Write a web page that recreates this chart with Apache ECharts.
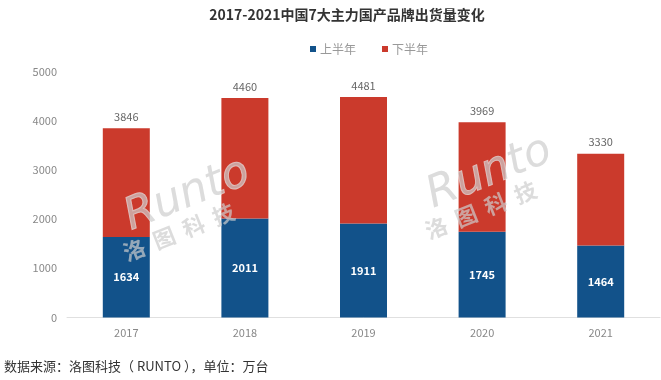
<!DOCTYPE html>
<html><head><meta charset="utf-8">
<script src="https://cdn.jsdelivr.net/npm/echarts@6/dist/echarts.min.js"></script>
<style>html,body{margin:0;padding:0;background:#fff}#c{width:661px;height:380px}</style>
</head><body><div id="c"></div>
<script>
const titleText = '2017-2021中国7大主力国产品牌出货量变化';
const sourceText = '数据来源：洛图科技（ RUNTO ），单位：万台';
const categories = ['2017', '2018', '2019', '2020', '2021'];
const seriesNames = ['上半年', '下半年'];
const firstHalf = [1634, 2011, 1911, 1745, 1464];
const secondHalf = [2212, 2449, 2570, 2224, 1866];
const totals = [3846, 4460, 4481, 3969, 3330];

const chart = echarts.init(document.getElementById('c'));
const font = '"Noto Sans CJK SC", "Noto Sans", sans-serif';
function wm(x, y) {
  return [
    {type:'text', left:x, top:y, rotation:0.38, z:100,
     style:{text:'Runto', fill:'rgba(205,205,205,0.7)', stroke:'rgba(255,255,255,0.6)', lineWidth:1, font:'italic 44px "DejaVu Sans", sans-serif'}},
    {type:'text', left:x+2, top:y+50, rotation:0.38, z:100,
     style:{text:'洛  图  科  技', fill:'rgba(205,205,205,0.7)', font:'bold 22px "Noto Sans CJK SC", sans-serif'}}
  ];
}
chart.setOption({
  backgroundColor:'#fff',
  animation:false,
  textStyle:{fontFamily:font},
  title:{text:titleText, left:342, top:3, textAlign:'center',
    textStyle:{fontSize:14, fontWeight:'bold', color:'#333', fontFamily:font}},
  legend:{top:38, left:305, itemWidth:6, itemHeight:6, itemGap:26, icon:'rect',
    data:seriesNames, textStyle:{color:'#999', fontSize:12, fontFamily:font, padding:[0,0,0,-1]}},
  grid:{left:67, right:1, top:71.5, bottom:62.5},
  xAxis:{type:'category', data:categories,
    axisLine:{lineStyle:{color:'#e0e0e0'}}, axisTick:{show:false},
    axisLabel:{color:'#888', fontSize:11, margin:10}},
  yAxis:{type:'value', min:0, max:5000, interval:1000,
    axisLine:{show:false}, axisTick:{show:false}, splitLine:{show:false},
    axisLabel:{color:'#888', fontSize:11, margin:10, formatter:v => String(v)}},
  series:[
    {name:seriesNames[0], type:'bar', stack:'a', data:firstHalf, barWidth:47,
     itemStyle:{color:'#12528a'},
     label:{show:true, position:'inside', color:'#fff', fontSize:11, fontWeight:'bold'}},
    {name:seriesNames[1], type:'bar', stack:'a', data:secondHalf, barWidth:47,
     itemStyle:{color:'#cb3a2c'},
     label:{show:true, position:'top', distance:6, color:'#666', fontSize:11,
       formatter:p => totals[p.dataIndex]}}
  ],
  graphic:[
    ...wm(118, 150),
    ...wm(420, 128),
    {type:'text', left:4, top:360, style:{text:sourceText, fill:'#333', font:'13px "Noto Sans CJK SC", sans-serif'}}
  ]
});
</script></body></html>
